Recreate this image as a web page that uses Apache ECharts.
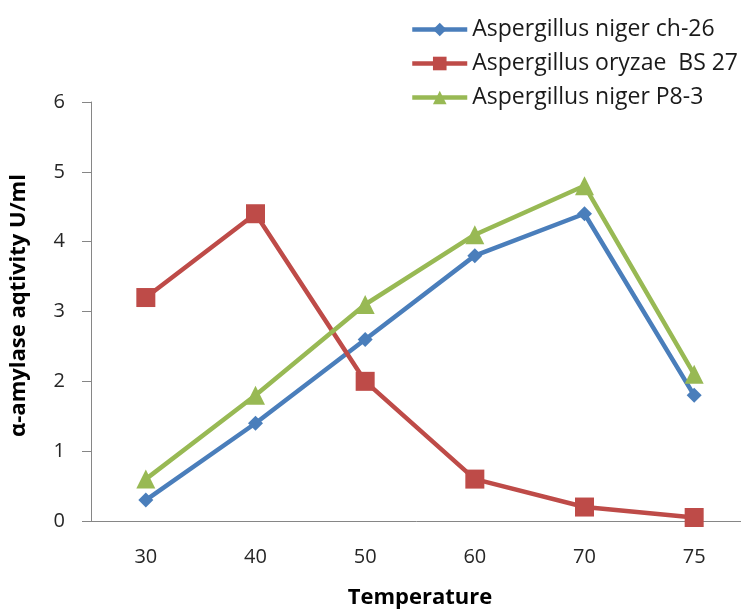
<!DOCTYPE html>
<html>
<head>
<meta charset="utf-8">
<script src="https://cdn.jsdelivr.net/npm/echarts@6/dist/echarts.min.js"></script>
<style>
  html, body { margin: 0; padding: 0; background: #fff; }
  #chart { width: 741px; height: 610px; }
</style>
</head>
<body>
<div id="chart"></div>
<script>
// data
const temperatures = ["30", "40", "50", "60", "70", "75"];
const nigerCh26 = [0.3, 1.4, 2.6, 3.8, 4.4, 1.8];
const oryzaeBs27 = [3.2, 4.4, 2.0, 0.6, 0.2, 0.05];
const nigerP83 = [0.6, 1.8, 3.1, 4.1, 4.8, 2.1];

const font = "'Open Sans', 'Noto Sans', sans-serif";

let myChart = echarts.init(document.getElementById("chart"));
let option = {
  animation: false,
  textStyle: { fontFamily: font },
  legend: {
    orient: "vertical",
    left: 405,
    top: 13,
    itemWidth: 55,
    itemHeight: 17,
    itemGap: 11,
    lineStyle: { width: 4.5 },
    textStyle: { fontSize: 23, color: "#1a1a1a", fontFamily: font },
  },
  grid: {
    left: 91,
    width: 658,
    top: 102,
    bottom: 89,
    outerBoundsMode: "none",
  },
  xAxis: {
    type: "category",
    data: temperatures,
    boundaryGap: true,
    name: "Temperature",
    nameLocation: "middle",
    nameGap: 66,
    nameTextStyle: { fontSize: 22, fontWeight: "bold", color: "#000" },
    axisLine: { lineStyle: { color: "#868686", width: 1 } },
    axisTick: { show: false },
    axisLabel: { fontSize: 20, color: "#262626", margin: 26 },
  },
  yAxis: {
    type: "value",
    min: 0,
    max: 6,
    interval: 1,
    name: "α-amylase aqtivity U/ml",
    nameLocation: "middle",
    nameGap: 61,
    nameTextStyle: { fontSize: 22, fontWeight: "bold", color: "#000", padding: [0, 0, 0, 12] },
    axisLine: { show: true, lineStyle: { color: "#868686", width: 1 } },
    axisTick: { show: true, length: 9, lineStyle: { color: "#868686" } },
    splitLine: { show: false },
    axisLabel: { fontSize: 20, color: "#262626", margin: 26 },
  },
  series: [
    {
      name: "Aspergillus niger ch-26",
      type: "line",
      data: nigerCh26,
      symbol: "diamond",
      symbolSize: 15,
      itemStyle: { color: "#4A7EBB" },
      lineStyle: { width: 4.5, color: "#4A7EBB" },
    },
    {
      name: "Aspergillus oryzae  BS 27",
      type: "line",
      data: oryzaeBs27,
      symbol: "rect",
      symbolSize: 19,
      itemStyle: { color: "#BE4B48" },
      lineStyle: { width: 4.5, color: "#BE4B48" },
    },
    {
      name: "Aspergillus niger P8-3",
      type: "line",
      data: nigerP83,
      symbol: "triangle",
      symbolSize: 19,
      itemStyle: { color: "#98B954" },
      lineStyle: { width: 4.5, color: "#98B954" },
    },
  ],
};
myChart.setOption(option);
</script>
</body>
</html>
